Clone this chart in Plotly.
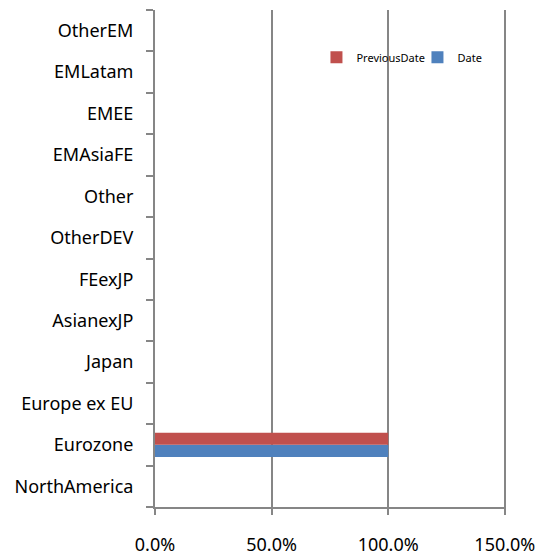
import plotly.graph_objects as go

categories = ["NorthAmerica", "Eurozone", "Europe ex EU", "Japan", "AsianexJP", "FEexJP",
              "OtherDEV", "Other", "EMAsiaFE", "EMEE", "EMLatam", "OtherEM"]
date_values = [0, 1.0, 0, 0, 0, 0, 0, 0, 0, 0, 0, 0]
previous_values = [0, 1.0, 0, 0, 0, 0, 0, 0, 0, 0, 0, 0]
x_ticks = [0, 0.5, 1.0, 1.5]
x_tick_labels = ["0.0%", "50.0%", "100.0%", "150.0%"]

font = "'Noto Sans', 'Open Sans', sans-serif"

fig = go.Figure()
fig.add_trace(go.Bar(y=categories, x=date_values, orientation="h", name="Date",
                     marker=dict(color="#4F81BD", line=dict(width=0))))
fig.add_trace(go.Bar(y=categories, x=previous_values, orientation="h", name="PreviousDate",
                     marker=dict(color="#C0504D", line=dict(width=0))))

fig.update_layout(
    width=539, height=556,
    margin=dict(l=155, r=33, t=10, b=49, autoexpand=False),
    plot_bgcolor="white", paper_bgcolor="white",
    barmode="group", bargap=0.42, bargroupgap=0,
    font=dict(family=font, size=18, color="#000000"),
    legend=dict(orientation="h", x=0.46, y=0.905, xanchor="left", yanchor="middle",
                traceorder="reversed", font=dict(size=11), itemwidth=30,
                entrywidth=56, entrywidthmode="pixels",
                bgcolor="rgba(0,0,0,0)"),
    showlegend=True,
)
fig.update_xaxes(range=[0, 1.505], tickvals=x_ticks, ticktext=x_tick_labels,
                 showgrid=True, gridcolor="#868686", gridwidth=2, automargin=False,
                 zeroline=False, showline=True, linecolor="#868686", linewidth=2,
                 ticks="outside", ticklen=6, tickwidth=2, tickcolor="#868686",
                 ticklabelstandoff=14, tickfont=dict(size=18))
fig.update_yaxes(type="category", categoryorder="array", categoryarray=categories,
                 showline=True, linecolor="#868686", linewidth=2, automargin=False,
                 ticks="outside", tickson="boundaries", ticklen=7, tickcolor="#868686",
                 tickwidth=2, showgrid=False, ticklabelstandoff=16,
                 tickfont=dict(size=18))

fig.write_html("out.html", config={"displayModeBar": False},
               post_script="document.body.style.margin='0';document.body.style.overflow='hidden';")
